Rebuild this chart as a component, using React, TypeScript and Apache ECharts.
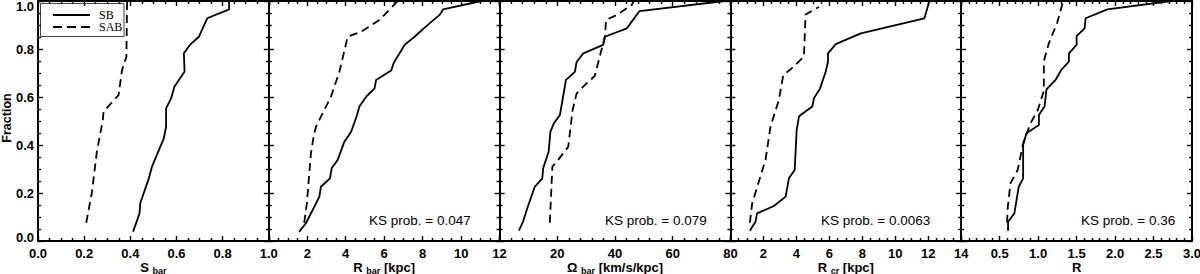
import React, { useEffect, useRef } from "react";
import * as echarts from "echarts";

// ---------- data ----------
const panelRanges = [
  { min: 0, max: 1, interval: 0.2, minor: 4 },
  { min: 0, max: 12, interval: 2, minor: 4 },
  { min: 0, max: 80, interval: 20, minor: 5 },
  { min: 0, max: 14, interval: 2, minor: 4 },
  { min: 0, max: 3, interval: 0.5, minor: 5 },
];
const axisTitles = [
  { main: "S", sub: "bar", unit: "" },
  { main: "R", sub: "bar", unit: "[kpc]" },
  { main: "Ω", sub: "bar", unit: "[km/s/kpc]" },
  { main: "R", sub: "cr", unit: "[kpc]" },
  { main: "R", sub: "", unit: "" },
];
const ksProbs = ["", "0.047", "0.079", "0.0063", "0.36"];
const legendLabels = ["SB", "SAB"];
const yTicks = { min: 0, max: 1, interval: 0.2, minor: 4 };

const sBarSB = [[0.412,0.039],[0.44,0.115],[0.443,0.157],[0.48,0.26],[0.494,0.31],[0.545,0.428],[0.555,0.476],[0.555,0.553],[0.577,0.595],[0.591,0.643],[0.625,0.692],[0.635,0.705],[0.632,0.782],[0.658,0.817],[0.697,0.851],[0.733,0.928],[0.828,0.965],[0.828,1.0]];
const sBarSAB = [[0.209,0.076],[0.233,0.199],[0.255,0.372],[0.281,0.504],[0.284,0.539],[0.349,0.608],[0.364,0.712],[0.383,0.768],[0.386,1.0]];
const rBarSB = [[1.58,0.039],[1.93,0.074],[2.63,0.185],[2.71,0.226],[3.18,0.261],[3.27,0.303],[3.58,0.338],[3.93,0.414],[4.28,0.455],[4.59,0.525],[4.71,0.56],[5.06,0.601],[5.5,0.636],[5.58,0.671],[6.36,0.71],[6.5,0.743],[7.06,0.817],[7.58,0.851],[8.1,0.889],[8.88,0.942],[9.06,0.965],[11.06,1.0]];
const rBarSAB = [[1.84,0.076],[1.98,0.157],[2.19,0.365],[2.33,0.435],[2.45,0.476],[3.23,0.601],[3.67,0.705],[4.1,0.851],[4.8,0.872],[5.75,0.921],[6.54,0.986],[6.71,1.0]];
const omegaSB = [[6.7,0.043],[8.1,0.08],[9.86,0.146],[12.2,0.226],[14.8,0.261],[15.1,0.303],[17.0,0.372],[17.6,0.455],[18.8,0.49],[20.9,0.525],[22.0,0.601],[23.0,0.671],[26.1,0.705],[26.7,0.746],[29.0,0.782],[35.9,0.817],[36.5,0.851],[44.1,0.886],[48.5,0.958],[78,1.0]];
const omegaSAB = [[17.4,0.076],[18.3,0.31],[20.3,0.338],[23.8,0.393],[25.3,0.546],[26.7,0.615],[29.0,0.643],[33.0,0.688],[35.0,0.782],[36.5,0.851],[36.9,0.921],[40.6,0.942],[45.8,0.983],[46.5,1.0]];
const rcrSB = [[1.18,0.043],[1.52,0.08],[1.62,0.115],[2.64,0.146],[3.35,0.185],[3.55,0.261],[3.9,0.296],[4.02,0.4625],[4.16,0.518],[4.26,0.525],[4.97,0.56],[5.07,0.595],[5.44,0.636],[5.78,0.705],[5.92,0.747],[5.92,0.782],[6.39,0.82],[7.91,0.865],[11.77,0.928],[12.07,1.0]];
const rcrSAB = [[1.18,0.076],[1.32,0.157],[2.13,0.338],[2.43,0.476],[2.94,0.5875],[3.21,0.692],[3.65,0.715],[4.46,0.768],[4.56,0.944],[5.37,0.975]];
const ratioSB = [[0.609,0.043],[0.609,0.08],[0.691,0.115],[0.748,0.226],[0.805,0.261],[0.805,0.4],[0.848,0.449],[1.01,0.483],[1.01,0.525],[1.083,0.56],[1.109,0.632],[1.226,0.671],[1.3,0.7125],[1.4,0.747],[1.4,0.782],[1.5,0.817],[1.5,0.854],[1.604,0.886],[1.617,0.928],[1.9,0.965],[2.73,1.0]];
const ratioSAB = [[0.596,0.076],[0.604,0.136],[0.64,0.24],[0.734,0.296],[0.805,0.407],[0.9,0.49],[0.996,0.546],[1.074,0.625],[1.074,0.75],[1.139,0.824],[1.248,0.91],[1.326,1.0]];

const sbSeries = [sBarSB, rBarSB, omegaSB, rcrSB, ratioSB];
const sabSeries = [sBarSAB, rBarSAB, omegaSAB, rcrSAB, ratioSAB];

// ---------- layout / style ----------
const LEFT = 38;
const PW = 230.8;
const TOP = 1;
const PH = 240;
const SANS = '"Liberation Sans", Arial, sans-serif';
const SERIF = '"Liberation Serif", "Times New Roman", serif';
const DASH = [8, 5];

function axisCommon(r: any) {
  return {
    type: "value",
    min: r.min,
    max: r.max,
    interval: r.interval,
    axisLine: { show: true, onZero: false, lineStyle: { color: "#000", width: 2 } },
    axisTick: { show: true, inside: true, length: 5, lineStyle: { color: "#000", width: 1.4 } },
    minorTick: { show: true, splitNumber: r.minor, length: 3, lineStyle: { color: "#000", width: 1.4 } },
    splitLine: { show: false },
    minorSplitLine: { show: false },
  };
}

const labelFont = { fontFamily: SANS, fontWeight: "bold", fontSize: 13, color: "#000" };

export default function App() {
  const ref = useRef<HTMLDivElement>(null);
  useEffect(() => {
    if (!ref.current) return;
    const chart = echarts.init(ref.current, undefined, { renderer: "svg" });
    const grids: any[] = [];
    const xAxes: any[] = [];
    const yAxes: any[] = [];
    const series: any[] = [];
    panelRanges.forEach((r, i) => {
      grids.push({
        left: LEFT + i * PW,
        top: TOP,
        width: PW,
        height: PH,
        containLabel: false,
        outerBoundsMode: "none",
      });
      const t = axisTitles[i];
      const name =
        "{m|" + t.main + "}" +
        (t.sub ? " {s|" + t.sub + "}" : "") +
        (t.unit ? " {m|" + t.unit + "}" : "");
      const dec = r.interval < 1 ? 1 : 0;
      xAxes.push({
        ...axisCommon(r),
        gridIndex: i,
        position: "bottom",
        name,
        nameLocation: "middle",
        nameGap: 19,
        nameMoveOverlap: false,
        nameTextStyle: {
          ...labelFont,
          rich: {
            m: { ...labelFont, fontSize: 13, lineHeight: 15 },
            s: { ...labelFont, fontSize: 9, lineHeight: 15, padding: [6, 0, 0, 0] },
          },
        },
        axisLabel: {
          ...labelFont,
          margin: 6,
          showMinLabel: i === 0,
          showMaxLabel: true,
          formatter: (v: number) => v.toFixed(dec),
        },
      });
      xAxes.push({
        ...axisCommon(r),
        gridIndex: i,
        position: "top",
        axisLabel: { show: false },
      });
      yAxes.push({
        ...axisCommon(yTicks),
        gridIndex: i,
        position: "left",
        axisLabel:
          i === 0
            ? {
                ...labelFont,
                margin: 4,
                showMinLabel: true,
                showMaxLabel: true,
                formatter: (v: number) =>
                  v === 0 ? "{lo|0.0}" : v === 1 ? "{hi|1.0}" : v.toFixed(1),
                rich: {
                  lo: { ...labelFont, padding: [0, 0, 8, 0] },
                  hi: { ...labelFont, padding: [11, 0, 0, 0] },
                },
              }
            : { show: false },
      });
      yAxes.push({
        ...axisCommon(yTicks),
        gridIndex: i,
        position: "right",
        axisLabel: { show: false },
      });
      series.push({
        type: "line",
        name: legendLabels[0],
        xAxisIndex: 2 * i,
        yAxisIndex: 2 * i,
        data: sbSeries[i],
        showSymbol: false,
        symbol: "none",
        lineStyle: { color: "#000", width: 1.8, type: "solid" },
        silent: true,
      });
      series.push({
        type: "line",
        name: legendLabels[1],
        xAxisIndex: 2 * i,
        yAxisIndex: 2 * i,
        data: sabSeries[i],
        showSymbol: false,
        symbol: "none",
        lineStyle: { color: "#000", width: 1.8, type: DASH },
        silent: true,
      });
    });

    const ksPos = [0, 369, 605, 821, 1081];
    const graphics: any[] = [];
    ksProbs.forEach((p, i) => {
      if (!p) return;
      graphics.push({
        type: "text",
        x: ksPos[i],
        y: 220,
        style: {
          text: "KS prob. = " + p,
          font: "13.5px " + SANS,
          fill: "#000",
          align: "left",
          verticalAlign: "middle",
        },
      });
    });
    graphics.push({
      type: "text",
      x: 7,
      y: 118,
      rotation: Math.PI / 2,
      style: {
        text: "Fraction",
        font: "bold 12.5px " + SANS,
        fill: "#000",
        align: "center",
        verticalAlign: "middle",
      },
    });
    // legend box
    graphics.push({
      type: "rect",
      shape: { x: 40.5, y: 3.5, width: 83.5, height: 33 },
      style: { fill: "none", stroke: "#444", lineWidth: 1 },
    });
    graphics.push({
      type: "line",
      shape: { x1: 53, y1: 15, x2: 90, y2: 15 },
      style: { stroke: "#000", lineWidth: 1.8 },
    });
    graphics.push({
      type: "line",
      shape: { x1: 53, y1: 27, x2: 90, y2: 27 },
      style: { stroke: "#000", lineWidth: 1.8, lineDash: [9, 5] },
    });
    legendLabels.forEach((l, k) => {
      graphics.push({
        type: "text",
        x: 99,
        y: 15 + k * 12,
        style: {
          text: l,
          font: "12px " + SERIF,
          fill: "#000",
          align: "left",
          verticalAlign: "middle",
        },
      });
    });

    chart.setOption({
      animation: false,
      backgroundColor: "#fff",
      grid: grids,
      xAxis: xAxes,
      yAxis: yAxes,
      series,
      graphic: graphics,
    });
    return () => chart.dispose();
  }, []);
  return (
    <div
      ref={ref}
      style={{ position: "fixed", left: 0, top: 0, width: 1200, height: 274, background: "#fff" }}
    />
  );
}
